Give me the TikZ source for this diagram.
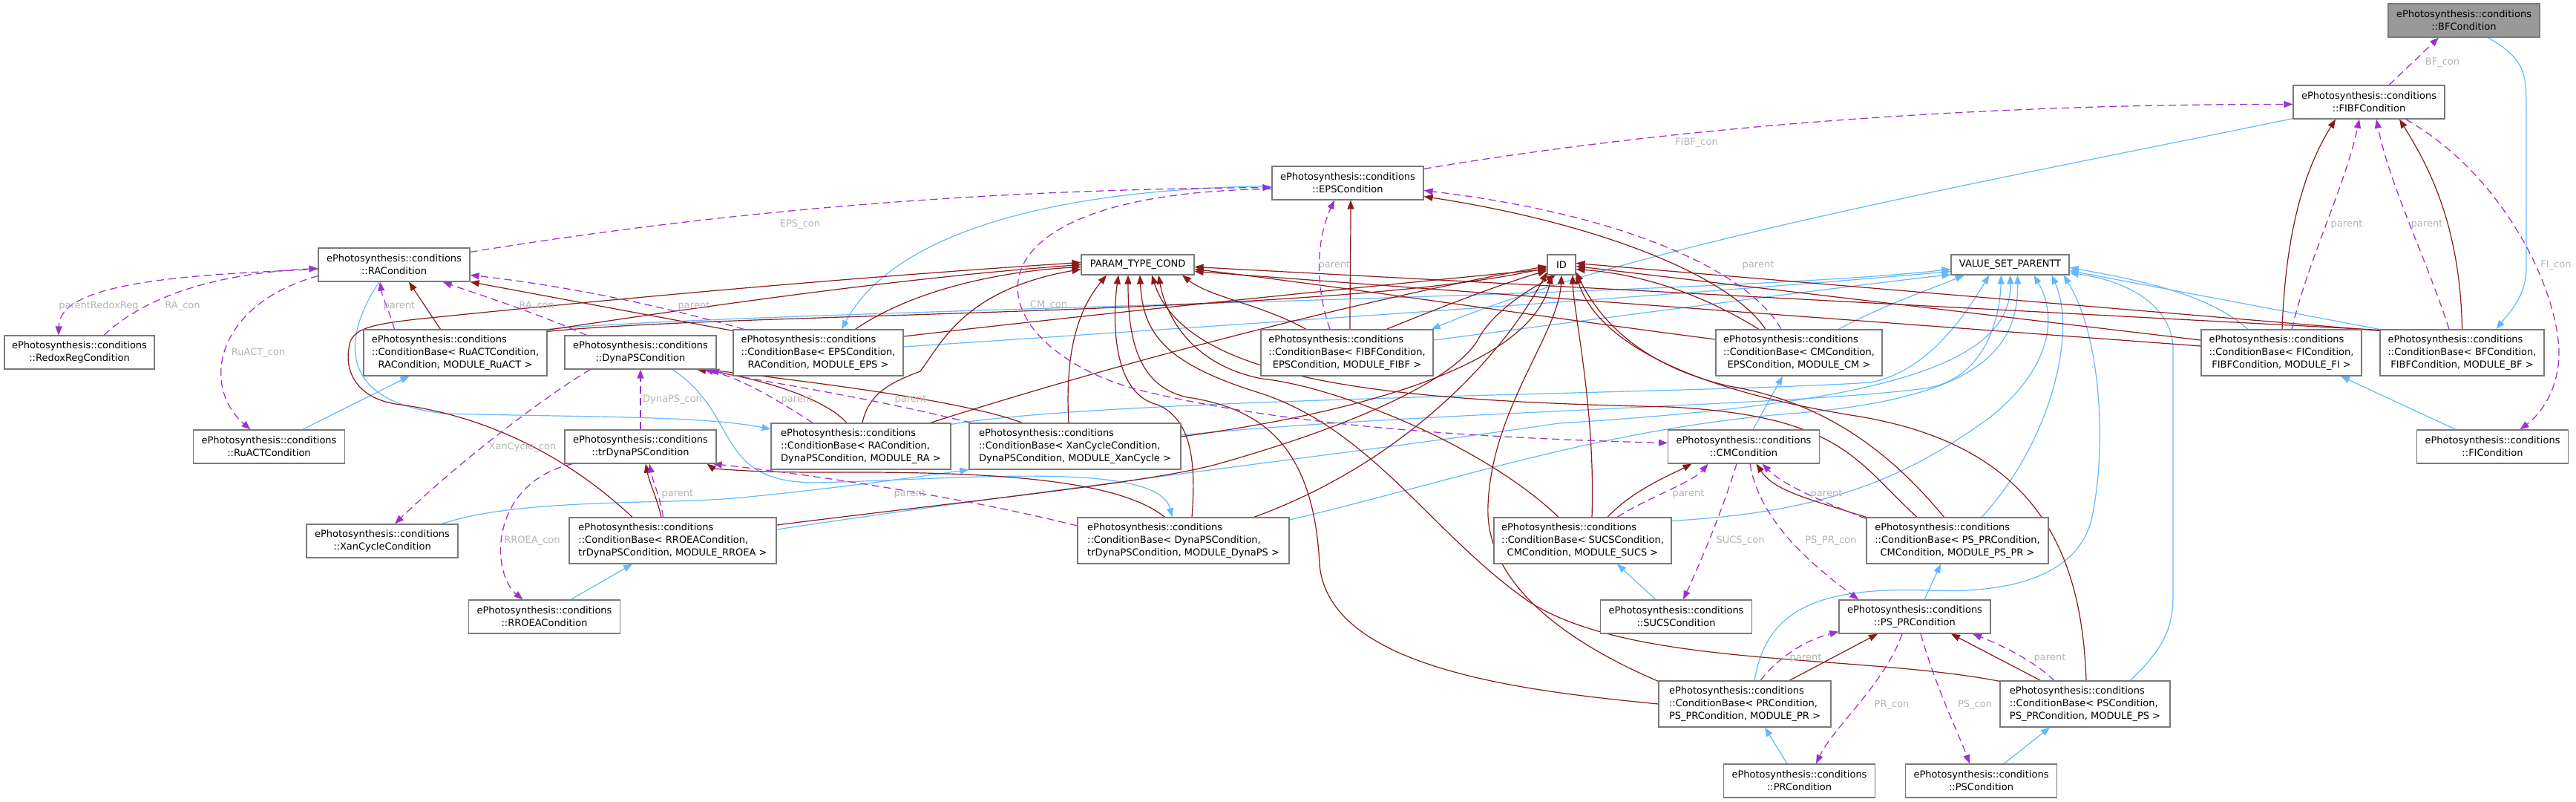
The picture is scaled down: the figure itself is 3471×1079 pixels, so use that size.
\documentclass[tikz,border=0pt]{standalone}
\usepackage{fontspec}
\setmainfont{DejaVu Sans}
\usetikzlibrary{arrows.meta,calc}
\definecolor{inhblue}{HTML}{63B8FF}
\definecolor{privred}{HTML}{8B1A1A}
\definecolor{usepurple}{HTML}{9A32CD}
\definecolor{nodeborder}{HTML}{7A7A7A}
\definecolor{rootfill}{HTML}{999999}
\definecolor{lblgray}{HTML}{B4B4B4}
\newcommand{\dxfont}{\fontsize{13}{17}\selectfont}
\newcommand{\cbt}[3]{\begin{tabular}{@{}l@{}}ePhotosynthesis::conditions\\::ConditionBase< #1,\\\multicolumn{1}{@{}c@{}}{#2, #3 >}\end{tabular}}
\newcommand{\clt}[1]{ePhotosynthesis::conditions\\::#1}
\pgfdeclarelayer{edges}
\pgfsetlayers{edges,main}
\tikzset{
  basebox/.style={draw=nodeborder, fill=white, line width=1.2pt, inner sep=0pt, font=\dxfont, text=black},
  clsbox/.style={basebox, minimum width=204pt, minimum height=45pt, align=center},
  cbbox/.style={basebox, minimum height=62pt},
  smallbox/.style={basebox, minimum height=27pt},
  tipx/.style={-{Triangle[length=12pt,width=9pt]}},
  inhedge/.style={draw=inhblue, line width=1.2pt, tipx},
  privedge/.style={draw=privred, line width=1.2pt, tipx},
  useedge/.style={draw=usepurple, line width=1.25pt, dash pattern=on 10pt off 6pt, tipx},
  edgelbl/.style={font=\dxfont, text=lblgray, inner sep=0pt},
}
\begin{document}
\begin{tikzpicture}[x=1pt,y=-1pt]
\useasboundingbox (0,0) rectangle (3471,1079);
% nodes
\node[clsbox, fill=rootfill] (bf) at (3320,27.5) {\clt{BFCondition}};
\node[clsbox] (fibf) at (3192,137.5) {\clt{FIBFCondition}};
\node[clsbox] (eps) at (1816,246.5) {\clt{EPSCondition}};
\node[clsbox] (ra) at (531,356.5) {\clt{RACondition}};
\node[smallbox, minimum width=152pt] (ptc) at (1533,356.5) {PARAM\_TYPE\_COND};
\node[smallbox, minimum width=38pt] (id) at (2104,356.5) {ID};
\node[smallbox, minimum width=159pt] (vsp) at (2708.5,356.5) {VALUE\_SET\_PARENTT};
\node[clsbox, minimum width=202pt] (redox) at (107,474.5) {\clt{RedoxRegCondition}};
\node[cbbox, minimum width=247pt] (cbruact) at (613.5,475) {\cbt{RuACTCondition}{RACondition}{MODULE\_RuACT}};
\node[clsbox] (dynaps) at (863,474.5) {\clt{DynaPSCondition}};
\node[cbbox, minimum width=229pt] (cbeps) at (1102.5,475) {\cbt{EPSCondition}{RACondition}{MODULE\_EPS}};
\node[cbbox, minimum width=232pt] (cbfibf) at (1815,475) {\cbt{FIBFCondition}{EPSCondition}{MODULE\_FIBF}};
\node[cbbox, minimum width=224pt] (cbcm) at (2424,475) {\cbt{CMCondition}{EPSCondition}{MODULE\_CM}};
\node[cbbox, minimum width=216pt] (cbfi) at (3074,475) {\cbt{FICondition}{FIBFCondition}{MODULE\_FI}};
\node[cbbox, minimum width=221pt] (cbbf) at (3317.5,475) {\cbt{BFCondition}{FIBFCondition}{MODULE\_BF}};
\node[clsbox] (ruact) at (362.5,601.5) {\clt{RuACTCondition}};
\node[clsbox] (trdynaps) at (863,601.5) {\clt{trDynaPSCondition}};
\node[cbbox, minimum width=242pt] (cbra) at (1160,601) {\cbt{RACondition}{DynaPSCondition}{MODULE\_RA}};
\node[cbbox, minimum width=285pt] (cbxan) at (1448.5,601) {\cbt{XanCycleCondition}{DynaPSCondition}{MODULE\_XanCycle}};
\node[clsbox] (cm) at (2349.5,601.5) {\clt{CMCondition}};
\node[clsbox] (fi) at (3358.5,601.5) {\clt{FICondition}};
\node[clsbox] (xan) at (515,728.5) {\clt{XanCycleCondition}};
\node[cbbox, minimum width=279pt] (cbrroea) at (906.5,728) {\cbt{RROEACondition}{trDynaPSCondition}{MODULE\_RROEA}};
\node[cbbox, minimum width=285pt] (cbdynaps) at (1594.5,728) {\cbt{DynaPSCondition}{trDynaPSCondition}{MODULE\_DynaPS}};
\node[cbbox, minimum width=239pt] (cbsucs) at (2132.5,728) {\cbt{SUCSCondition}{CMCondition}{MODULE\_SUCS}};
\node[cbbox, minimum width=245pt] (cbpspr) at (2637.5,728) {\cbt{PS\_PRCondition}{CMCondition}{MODULE\_PS\_PR}};
\node[clsbox] (rroea) at (733.5,830.5) {\clt{RROEACondition}};
\node[clsbox] (sucs) at (2258.5,830.5) {\clt{SUCSCondition}};
\node[clsbox] (pspr) at (2580,830.5) {\clt{PS\_PRCondition}};
\node[cbbox, minimum width=232pt] (cbpr) at (2351,948) {\cbt{PRCondition}{PS\_PRCondition}{MODULE\_PR}};
\node[cbbox, minimum width=229pt] (cbps) at (2809.5,948) {\cbt{PSCondition}{PS\_PRCondition}{MODULE\_PS}};
\node[clsbox] (pr) at (2424.5,1051.5) {\clt{PRCondition}};
\node[clsbox] (ps) at (2669.5,1051.5) {\clt{PSCondition}};

\begin{pgfonlayer}{edges}
% inheritance: condition -> its ConditionBase
\draw[inhedge] ($(bf.south)+(32,0)$) .. controls (3404,80) and (3404,100) .. (3404,150) -- (3404,360) .. controls (3404,400) and (3380,422) .. ($(cbbf.north)+(46,0)$);
\draw[inhedge] ($(fibf.south west)+(0,-1)$) .. controls (2700,240) and (2200,330) .. ($(cbfibf.north east)+(-3,0)$);
\draw[inhedge] ($(eps.west)+(0,4)$) .. controls (1400,255) and (1200,320) .. ($(cbeps.north)+(31.5,0)$);
\draw[inhedge] ($(ra.south)+(-20,0)$) .. controls (470,440) and (440,540) .. (600,557) .. controls (800,562) and (950,560) .. ($(cbra.west)+(0,-23)$);
\draw[inhedge] ($(ruact.north)+(45,0)$) -- ($(cbruact.south)+(-62,0)$);
\draw[inhedge] ($(dynaps.south)+(43,0)$) .. controls (1000,560) and (960,650) .. (1100,650) .. controls (1300,645) and (1560,620) .. ($(cbdynaps.north)+(-15,0)$);
\draw[inhedge] ($(xan.north east)+(-22,0)$) .. controls (700,670) and (900,680) .. (1000,670) .. controls (1150,655) and (1250,640) .. (cbxan.south west);
\draw[inhedge] ($(rroea.north)+(35.5,0)$) -- ($(cbrroea.south)+(-54.5,0)$);
\draw[inhedge] ($(cm.north)+(12.5,0)$) -- ($(cbcm.south)+(-22,0)$);
\draw[inhedge] ($(fi.north)+(-49.5,0)$) -- ($(cbfi.south)+(80,0)$);
\draw[inhedge] ($(sucs.north)+(-27.5,0)$) -- ($(cbsucs.south)+(46.5,0)$);
\draw[inhedge] ($(pspr.north)+(13,0)$) -- ($(cbpspr.south)+(-22.5,0)$);
\draw[inhedge] ($(pr.north)+(-16.5,0)$) -- ($(cbpr.south)+(27,0)$);
\draw[inhedge] ($(ps.north)+(30.5,0)$) -- ($(cbps.south)+(-47.5,0)$);
% inheritance: ConditionBase -> VALUE_SET_PARENTT
\draw[inhedge] (cbruact.north east) .. controls (1000,418) and (2300,400) .. ($(vsp.west)+(0,6)$);
\draw[inhedge] ($(cbeps.east)+(0,-8)$) .. controls (1700,435) and (2300,395) .. ($(vsp.west)+(0,9)$);
\draw[inhedge] ($(cbfibf.east)+(0,-17)$) .. controls (2150,430) and (2450,390) .. ($(vsp.south west)+(0,-1)$);
\draw[inhedge] ($(cbcm.north)+(53,0)$) .. controls (2540,410) and (2600,390) .. ($(vsp.south)+(-62,0)$);
\draw[inhedge] ($(cbra.north east)+(0,2)$) .. controls (1500,535) and (2300,530) .. (2520,515) .. controls (2600,500) and (2650,420) .. ($(vsp.south)+(-28,0)$);
\draw[inhedge] ($(cbxan.east)+(0,-15)$) .. controls (1900,555) and (2450,545) .. (2600,522) .. controls (2680,505) and (2695,420) .. ($(vsp.south)+(-12,0)$);
\draw[inhedge] ($(cbrroea.east)+(0,-15)$) .. controls (1400,660) and (1900,600) .. (2100,570) .. controls (2500,545) and (2712,500) .. (vsp.south);
\draw[inhedge] ($(cbdynaps.east)+(0,-28)$) .. controls (1950,650) and (2150,580) .. (2400,558) .. controls (2650,540) and (2720,480) .. ($(vsp.south)+(10,0)$);
\draw[inhedge] ($(cbsucs.north east)+(0,5)$) .. controls (2450,690) and (2560,650) .. (2680,563) .. controls (2760,500) and (2775,430) .. ($(vsp.south)+(32,0)$);
\draw[inhedge] ($(cbpspr.north)+(32.5,0)$) .. controls (2760,600) and (2800,450) .. ($(vsp.south)+(56,0)$);
\draw[inhedge] ($(cbpr.north)+(13,0)$) .. controls (2380,820) and (2450,790) .. (2600,795) .. controls (2720,800) and (2800,770) .. (2818,700) .. controls (2840,600) and (2830,450) .. ($(vsp.south)+(72,0)$);
\draw[inhedge] ($(cbps.north)+(60.5,0)$) .. controls (2920,870) and (2928,840) .. (2928,800) -- (2928,470) .. controls (2928,420) and (2880,380) .. ($(vsp.east)+(0,11)$);
\draw[inhedge] ($(cbfi.north)+(-45,0)$) .. controls (2980,400) and (2900,380) .. ($(vsp.east)+(0,4)$);
\draw[inhedge] (cbbf.north west) -- ($(vsp.east)+(0,8)$);
% private: ConditionBase -> parent
\draw[privedge] ($(cbruact.north)+(-20,0)$) -- ($(ra.south)+(20,0)$);
\draw[privedge] ($(cbeps.north west)+(0,2)$) -- (ra.south east);
\draw[privedge] ($(cbfibf.north)+(4,0)$) .. controls (1819,380) and (1820,320) .. ($(eps.south)+(4,0)$);
\draw[privedge] ($(cbcm.north)+(-45,0)$) .. controls (2330,370) and (2150,300) .. ($(eps.east)+(0,18)$);
\draw[privedge] ($(cbfi.north)+(1,0)$) .. controls (3080,300) and (3110,220) .. ($(fibf.south)+(-45,0)$);
\draw[privedge] (cbbf.north) .. controls (3315,300) and (3270,220) .. ($(fibf.south)+(41,0)$);
\draw[privedge] ($(cbra.north)+(-19,0)$) .. controls (1105,530) and (1000,505) .. ($(dynaps.south)+(76,0)$);
\draw[privedge] ($(cbxan.north)+(-71,0)$) .. controls (1300,540) and (1100,515) .. ($(dynaps.south)+(89,0)$);
\draw[privedge] ($(cbrroea.north)+(-15.5,0)$) .. controls (885,670) and (875,650) .. ($(trdynaps.south)+(7,0)$);
\draw[privedge] ($(cbdynaps.north)+(-25,0)$) .. controls (1500,640) and (1300,635) .. (1100,636) .. controls (1000,636) and (960,630) .. ($(trdynaps.south east)+(-13,0)$);
\draw[privedge] ($(cbsucs.north)+(33.5,0)$) .. controls (2200,660) and (2250,640) .. ($(cm.south)+(-70,0)$);
\draw[privedge] (cbpspr.north west) .. controls (2430,670) and (2390,660) .. ($(cm.south)+(17,0)$);
\draw[privedge] ($(cbpr.north)+(60,0)$) -- ($(pspr.south)+(-50,0)$);
\draw[privedge] ($(cbps.north)+(-60,0)$) -- ($(pspr.south)+(49,0)$);
% private: ConditionBase -> PARAM_TYPE_COND
\draw[privedge] ($(cbruact.north east)+(0,1)$) .. controls (900,420) and (1200,375) .. (ptc.west);
\draw[privedge] ($(cbeps.north)+(50,0)$) .. controls (1230,390) and (1350,365) .. ($(ptc.west)+(0,3)$);
\draw[privedge] ($(cbrroea.north)+(-54.5,0)$) .. controls (760,610) and (650,560) .. (540,545) .. controls (480,538) and (465,500) .. (470,470) .. controls (472,445) and (490,438) .. (560,430) .. controls (900,395) and (1200,370) .. ($(ptc.west)+(0,-3)$);
\draw[privedge] ($(cbra.north)+(2,0)$) .. controls (1170,530) and (1200,515) .. (1240,500) .. controls (1270,460) and (1300,390) .. ($(ptc.west)+(0,6)$);
\draw[privedge] ($(cbxan.north)+(-8.5,0)$) .. controls (1435,480) and (1450,420) .. ($(ptc.south)+(-42,0)$);
\draw[privedge] ($(cbdynaps.north)+(11.5,0)$) .. controls (1612,620) and (1605,565) .. (1560,545) .. controls (1495,530) and (1500,420) .. ($(ptc.south)+(-26,0)$);
\draw[privedge] (cbpr.west) .. controls (2050,930) and (1790,900) .. (1778,760) .. controls (1770,600) and (1700,550) .. (1600,535) .. controls (1530,520) and (1520,450) .. ($(ptc.south)+(-13,0)$);
\draw[privedge] ($(cbps.north west)+(0,1)$) .. controls (2500,880) and (2200,900) .. (2060,810) .. controls (1930,720) and (1850,580) .. (1700,530) .. controls (1570,490) and (1540,450) .. ($(ptc.south)+(3,0)$);
\draw[privedge] ($(cbpspr.north)+(-54.5,0)$) .. controls (2500,620) and (2480,560) .. (2250,548) .. controls (1900,540) and (1600,520) .. ($(ptc.south)+(19,0)$);
\draw[privedge] ($(cbsucs.north)+(-32.5,0)$) .. controls (2000,600) and (1800,520) .. (1700,510) .. controls (1600,490) and (1570,420) .. ($(ptc.south)+(28,0)$);
\draw[privedge] ($(cbfibf.north)+(-55,0)$) .. controls (1700,410) and (1630,400) .. ($(ptc.south)+(60,0)$);
\draw[privedge] ($(cbcm.west)+(0,-18)$) .. controls (2100,430) and (1800,385) .. ($(ptc.east)+(0,6)$);
\draw[privedge] ($(cbfi.west)+(0,-9)$) -- ($(ptc.east)+(0,9)$);
\draw[privedge] ($(cbbf.north west)+(0,1)$) -- ($(ptc.east)+(0,3)$);
% private: ConditionBase -> ID
\draw[privedge] ($(cbruact.north east)+(0,3)$) .. controls (1000,420) and (1800,425) .. ($(id.west)+(0,4)$);
\draw[privedge] ($(cbeps.east)+(0,-22)$) .. controls (1500,420) and (1900,380) .. ($(id.west)+(0,6)$);
\draw[privedge] ($(cbra.north east)+(-28,0)$) .. controls (1500,490) and (1850,400) .. ($(id.west)+(0,2)$);
\draw[privedge] ($(cbxan.east)+(0,-13)$) .. controls (1800,560) and (2060,500) .. ($(id.south)+(-13,0)$);
\draw[privedge] ($(cbrroea.east)+(0,-21)$) .. controls (1300,675) and (1550,650) .. (1640,625) .. controls (1800,580) and (1950,520) .. (1990,460) .. controls (2010,420) and (2060,390) .. ($(id.south)+(-8,0)$);
\draw[privedge] ($(cbdynaps.north east)+(-48,0)$) .. controls (1900,620) and (2030,470) .. ($(id.west)+(0,10)$);
\draw[privedge] ($(cbfibf.north)+(53,0)$) .. controls (1950,410) and (2030,380) .. ($(id.west)+(0,8)$);
\draw[privedge] ($(cbsucs.north)+(12.5,0)$) .. controls (2150,550) and (2120,420) .. ($(id.south)+(15,0)$);
\draw[privedge] ($(cbpr.north west)+(0,1)$) .. controls (2100,860) and (2000,780) .. (2005,680) .. controls (2010,550) and (2100,450) .. (id.south);
\draw[privedge] ($(cbps.north)+(1.5,0)$) .. controls (2805,750) and (2750,600) .. (2500,560) .. controls (2250,520) and (2150,450) .. (id.south east);
\draw[privedge] ($(cbpspr.north)+(-18,0)$) .. controls (2540,600) and (2450,540) .. (2330,520) .. controls (2200,490) and (2150,420) .. ($(id.east)+(0,10)$);
\draw[privedge] ($(cbcm.north)+(-54,0)$) .. controls (2300,400) and (2220,370) .. ($(id.east)+(0,6)$);
\draw[privedge] ($(cbfi.west)+(0,-17)$) -- ($(id.east)+(0,2)$);
\draw[privedge] ($(cbbf.north west)+(0,2)$) -- ($(id.east)+(0,-2)$);
% usage: parent
\draw[useedge] ($(cbruact.north)+(-82,0)$) .. controls (525,420) and (515,400) .. ($(ra.south)+(-19,0)$);
\draw[useedge] ($(cbeps.north west)+(15,0)$) .. controls (850,400) and (720,380) .. ($(ra.east)+(0,14)$);
\draw[useedge] ($(cbfibf.north)+(-23,0)$) .. controls (1770,380) and (1775,320) .. ($(eps.south)+(-18,0)$);
\draw[useedge] ($(cbcm.north)+(-24,0)$) .. controls (2360,370) and (2200,290) .. ($(eps.east)+(0,10)$);
\draw[useedge] ($(cbfi.north)+(14,0)$) .. controls (3110,350) and (3160,250) .. ($(fibf.south)+(-13,0)$);
\draw[useedge] ($(cbbf.north)+(-17.5,0)$) .. controls (3270,350) and (3220,250) .. ($(fibf.south)+(10,0)$);
\draw[useedge] ($(cbra.north)+(-65,0)$) .. controls (1050,540) and (1000,510) .. ($(dynaps.south)+(86,0)$);
\draw[useedge] ($(cbxan.north west)+(3,0)$) .. controls (1150,530) and (1000,510) .. ($(dynaps.south)+(94,0)$);
\draw[useedge] ($(cbrroea.north)+(-13,0)$) .. controls (890,670) and (880,650) .. ($(trdynaps.south)+(12,0)$);
\draw[useedge] ($(cbdynaps.west)+(0,-20)$) .. controls (1300,670) and (1100,640) .. ($(trdynaps.south east)+(-5,0)$);
\draw[useedge] ($(cbsucs.north)+(46.5,0)$) .. controls (2220,670) and (2280,650) .. ($(cm.south)+(-48,0)$);
\draw[useedge] ($(cbpspr.north west)+(0,2)$) .. controls (2440,670) and (2400,650) .. ($(cm.south)+(25,0)$);
\draw[useedge] ($(cbpr.north)+(21,0)$) .. controls (2400,880) and (2440,860) .. ($(pspr.south west)+(0,-3)$);
\draw[useedge] ($(cbps.north)+(-41.5,0)$) .. controls (2740,890) and (2700,870) .. ($(pspr.south)+(78,0)$);
% usage: members
\draw[useedge] ($(ra.north east)+(0,6)$) .. controls (1000,280) and (1350,255) .. ($(eps.west)+(0,6)$);
\draw[useedge] ($(eps.north east)+(0,4)$) .. controls (2200,180) and (2600,140) .. ($(fibf.west)+(0,3)$);
\draw[useedge] ($(fibf.north)+(27,0)$) -- ($(bf.south)+(-34,0)$);
\draw[useedge] ($(fibf.south east)+(-53,0)$) .. controls (3380,240) and (3450,400) .. (3448,480) .. controls (3446,530) and (3420,560) .. ($(fi.north)+(37,0)$);
\draw[useedge] ($(eps.west)+(0,8)$) .. controls (1250,260) and (1320,480) .. (1555,530) .. controls (1750,575) and (2000,590) .. ($(cm.west)+(0,-5)$);
\draw[useedge] ($(ra.west)+(0,6)$) .. controls (250,370) and (80,380) .. ($(redox.north)+(-28,0)$);
\draw[useedge] ($(redox.north)+(33,0)$) .. controls (200,395) and (300,368) .. ($(ra.west)+(0,5)$);
\draw[useedge] ($(ra.south west)+(0,-8)$) .. controls (290,410) and (270,520) .. ($(ruact.north)+(-25,0)$);
\draw[useedge] ($(dynaps.north west)+(30,0)$) .. controls (720,420) and (640,395) .. ($(ra.south east)+(-37,0)$);
\draw[useedge] ($(dynaps.south west)+(35,0)$) .. controls (740,530) and (620,620) .. ($(xan.north)+(17,0)$);
\draw[useedge] (trdynaps.north) -- (dynaps.south);
\draw[useedge] ($(trdynaps.south west)+(11,0)$) .. controls (660,650) and (660,770) .. ($(rroea.north)+(-29,0)$);
\draw[useedge] ($(cm.south)+(-9.5,0)$) .. controls (2320,690) and (2290,760) .. ($(sucs.north)+(9.5,0)$);
\draw[useedge] ($(cm.south)+(8.5,0)$) .. controls (2370,700) and (2440,760) .. ($(pspr.north west)+(27,0)$);
\draw[useedge] ($(pspr.south)+(-17,0)$) .. controls (2540,920) and (2470,980) .. ($(pr.north)+(22.5,0)$);
\draw[useedge] ($(pspr.south)+(8,0)$) .. controls (2610,930) and (2640,990) .. ($(ps.north)+(-15.5,0)$);
\end{pgfonlayer}

% labels
\node[edgelbl] (lprr) at (133,412) {parentRedoxReg};
\node[edgelbl] (lracon1) at (246,412) {RA\_con};
\node[edgelbl] (lruact) at (348,475) {RuACT\_con};
\node[edgelbl] (lp1) at (538,412) {parent};
\node[edgelbl] (lracon2) at (723,412) {RA\_con};
\node[edgelbl] (lp2) at (935,412) {parent};
\node[edgelbl] (leps) at (1078,302) {EPS\_con};
\node[edgelbl] (lp3) at (1798,357) {parent};
\node[edgelbl] (lcm) at (1413,411) {CM\_con};
\node[edgelbl] (lp4) at (2369,357) {parent};
\node[edgelbl] (lfibf) at (2286,192) {FIBF\_con};
\node[edgelbl] (lbf) at (3291,84) {BF\_con};
\node[edgelbl] (lp5) at (3162,302) {parent};
\node[edgelbl] (lp6) at (3270,302) {parent};
\node[edgelbl] (lfi) at (3444,357) {FI\_con};
\node[edgelbl] (ldyn) at (906,538) {DynaPS\_con};
\node[edgelbl] (lxan) at (704,602) {XanCycle\_con};
\node[edgelbl] (lp7) at (1074,538) {parent};
\node[edgelbl] (lp8) at (1227,538) {parent};
\node[edgelbl] (lp9) at (913,665) {parent};
\node[edgelbl] (lp10) at (1226,665) {parent};
\node[edgelbl] (lrroea) at (717,728) {RROEA\_con};
\node[edgelbl] (lp11) at (2275,665) {parent};
\node[edgelbl] (lp12) at (2461,665) {parent};
\node[edgelbl] (lsucs) at (2345,728) {SUCS\_con};
\node[edgelbl] (lpspr) at (2467,728) {PS\_PR\_con};
\node[edgelbl] (lp13) at (2433,886) {parent};
\node[edgelbl] (lp14) at (2762,886) {parent};
\node[edgelbl] (lpr) at (2549,949) {PR\_con};
\node[edgelbl] (lps) at (2661,949) {PS\_con};
\end{tikzpicture}
\end{document}
